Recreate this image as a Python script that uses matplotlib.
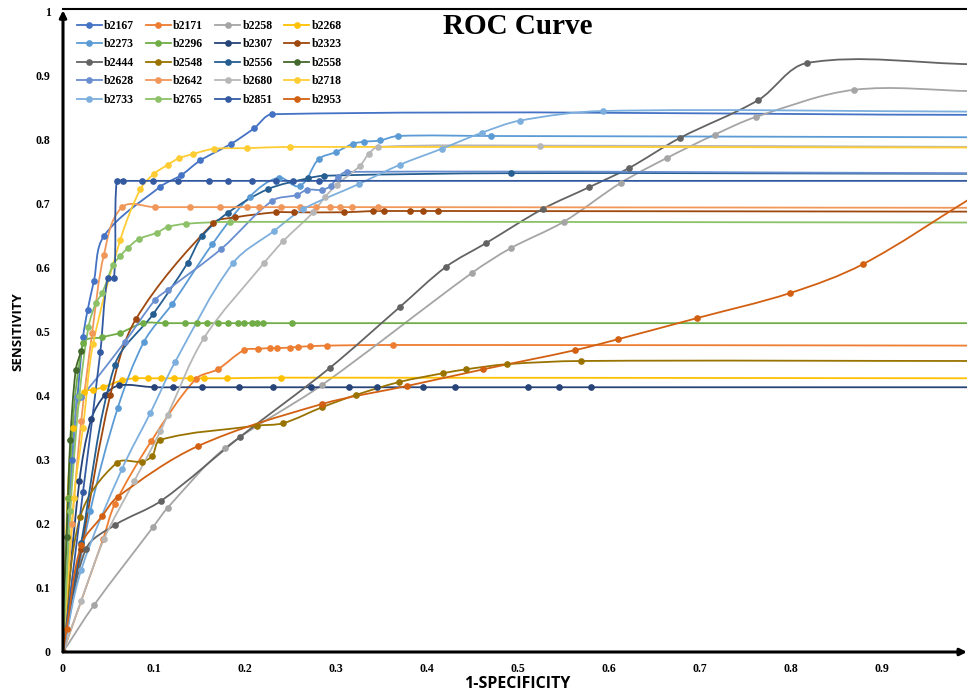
import matplotlib
matplotlib.use('Agg')
import matplotlib.pyplot as plt
import numpy as np
from matplotlib.path import Path
from matplotlib.patches import PathPatch
from matplotlib.lines import Line2D

# ---- data (x = 1-specificity, y = sensitivity) ----
x_b2167 = [0, 0.010, 0.016, 0.022, 0.027, 0.034, 0.045, 0.107, 0.130, 0.151, 0.185, 0.210, 0.230, 1.0]
y_b2167 = [0, 0.30, 0.40, 0.491, 0.533, 0.579, 0.649, 0.726, 0.744, 0.767, 0.793, 0.817, 0.839, 0.838]

x_b2171 = [0, 0.044, 0.057, 0.097, 0.146, 0.170, 0.199, 0.214, 0.227, 0.235, 0.249, 0.258, 0.271, 0.290, 0.363, 1.0]
y_b2171 = [0, 0.176, 0.231, 0.329, 0.426, 0.441, 0.471, 0.473, 0.474, 0.474, 0.475, 0.476, 0.477, 0.478, 0.479, 0.478]

x_b2258 = [0, 0.034, 0.099, 0.115, 0.178, 0.285, 0.449, 0.492, 0.550, 0.613, 0.664, 0.716, 0.762, 0.869, 1.0]
y_b2258 = [0, 0.073, 0.195, 0.225, 0.318, 0.417, 0.591, 0.630, 0.671, 0.732, 0.771, 0.807, 0.835, 0.877, 0.875]

x_b2268 = [0, 0.005, 0.011, 0.023, 0.033, 0.044, 0.065, 0.079, 0.093, 0.108, 0.122, 0.140, 0.155, 0.180, 0.240, 1.0]
y_b2268 = [0, 0.24, 0.349, 0.406, 0.409, 0.413, 0.424, 0.427, 0.427, 0.427, 0.427, 0.427, 0.427, 0.427, 0.428, 0.427]

x_b2273 = [0, 0.030, 0.060, 0.089, 0.120, 0.164, 0.205, 0.237, 0.260, 0.281, 0.300, 0.319, 0.331, 0.348, 0.368, 0.470, 1.0]
y_b2273 = [0, 0.22, 0.38, 0.484, 0.543, 0.636, 0.710, 0.740, 0.727, 0.769, 0.780, 0.793, 0.796, 0.798, 0.805, 0.805, 0.803]

x_b2296 = [0, 0.006, 0.022, 0.043, 0.063, 0.088, 0.112, 0.134, 0.147, 0.158, 0.170, 0.181, 0.192, 0.199, 0.208, 0.213, 0.220, 0.252, 1.0]
y_b2296 = [0, 0.24, 0.482, 0.491, 0.498, 0.513, 0.513, 0.513, 0.513, 0.513, 0.513, 0.513, 0.513, 0.513, 0.513, 0.513, 0.513, 0.513, 0.513]

x_b2307 = [0, 0.018, 0.031, 0.046, 0.062, 0.100, 0.121, 0.153, 0.193, 0.231, 0.272, 0.314, 0.345, 0.396, 0.431, 0.511, 0.545, 0.580, 1.0]
y_b2307 = [0, 0.266, 0.363, 0.401, 0.416, 0.413, 0.413, 0.413, 0.413, 0.413, 0.413, 0.413, 0.413, 0.413, 0.413, 0.413, 0.413, 0.413, 0.413]

x_b2323 = [0, 0.020, 0.052, 0.080, 0.165, 0.189, 0.234, 0.254, 0.309, 0.341, 0.353, 0.381, 0.396, 0.412, 1.0]
y_b2323 = [0, 0.16, 0.401, 0.519, 0.669, 0.678, 0.686, 0.686, 0.686, 0.688, 0.688, 0.688, 0.688, 0.688, 0.687]

x_b2444 = [0, 0.025, 0.057, 0.108, 0.195, 0.293, 0.370, 0.421, 0.465, 0.527, 0.578, 0.622, 0.678, 0.764, 0.818, 1.0]
y_b2444 = [0, 0.16, 0.198, 0.236, 0.336, 0.443, 0.538, 0.601, 0.638, 0.691, 0.725, 0.755, 0.802, 0.861, 0.919, 0.917]

x_b2548 = [0, 0.019, 0.059, 0.087, 0.098, 0.107, 0.213, 0.242, 0.285, 0.322, 0.369, 0.418, 0.443, 0.488, 0.569, 1.0]
y_b2548 = [0, 0.211, 0.295, 0.297, 0.306, 0.331, 0.353, 0.357, 0.382, 0.401, 0.421, 0.435, 0.441, 0.449, 0.454, 0.454]

x_b2556 = [0, 0.020, 0.057, 0.099, 0.137, 0.153, 0.181, 0.225, 0.269, 0.287, 0.492, 1.0]
y_b2556 = [0, 0.17, 0.448, 0.527, 0.607, 0.649, 0.685, 0.722, 0.739, 0.743, 0.747, 0.746]

x_b2558 = [0, 0.004, 0.008, 0.014, 0.020]
y_b2558 = [0, 0.18, 0.33, 0.44, 0.47]

x_b2628 = [0, 0.015, 0.020, 0.068, 0.101, 0.115, 0.174, 0.230, 0.257, 0.268, 0.285, 0.294, 0.302, 0.312, 1.0]
y_b2628 = [0, 0.398, 0.398, 0.484, 0.549, 0.565, 0.629, 0.704, 0.713, 0.721, 0.721, 0.727, 0.741, 0.749, 0.747]

x_b2642 = [0, 0.010, 0.020, 0.032, 0.045, 0.065, 0.101, 0.140, 0.173, 0.202, 0.215, 0.240, 0.260, 0.278, 0.293, 0.304, 0.318, 0.346, 1.0]
y_b2642 = [0, 0.20, 0.36, 0.497, 0.62, 0.694, 0.694, 0.694, 0.694, 0.694, 0.694, 0.694, 0.694, 0.694, 0.694, 0.694, 0.694, 0.694, 0.693]

x_b2680 = [0, 0.020, 0.045, 0.078, 0.107, 0.115, 0.155, 0.221, 0.242, 0.275, 0.288, 0.301, 0.326, 0.336, 0.346, 0.524, 1.0]
y_b2680 = [0, 0.08, 0.176, 0.266, 0.344, 0.370, 0.490, 0.607, 0.641, 0.686, 0.710, 0.729, 0.758, 0.777, 0.788, 0.790, 0.788]

x_b2718 = [0, 0.012, 0.022, 0.033, 0.063, 0.085, 0.100, 0.115, 0.127, 0.143, 0.166, 0.202, 0.249, 1.0]
y_b2718 = [0, 0.24, 0.35, 0.48, 0.643, 0.722, 0.746, 0.760, 0.770, 0.777, 0.785, 0.786, 0.788, 0.787]

x_b2733 = [0, 0.020, 0.065, 0.096, 0.123, 0.187, 0.232, 0.264, 0.325, 0.370, 0.416, 0.460, 0.502, 0.593, 1.0]
y_b2733 = [0, 0.128, 0.286, 0.373, 0.452, 0.607, 0.657, 0.691, 0.730, 0.760, 0.785, 0.810, 0.829, 0.844, 0.843]

x_b2765 = [0, 0.008, 0.018, 0.028, 0.036, 0.043, 0.055, 0.063, 0.071, 0.083, 0.103, 0.115, 0.135, 0.184, 1.0]
y_b2765 = [0, 0.22, 0.40, 0.507, 0.544, 0.560, 0.604, 0.618, 0.630, 0.644, 0.654, 0.663, 0.668, 0.671, 0.670]

x_b2851 = [0, 0.022, 0.041, 0.049, 0.056, 0.059, 0.066, 0.087, 0.099, 0.126, 0.160, 0.181, 0.208, 0.234, 0.253, 0.281, 1.0]
y_b2851 = [0, 0.25, 0.468, 0.583, 0.583, 0.735, 0.735, 0.735, 0.735, 0.735, 0.735, 0.735, 0.735, 0.735, 0.735, 0.735, 0.735]

x_b2953 = [0, 0.004, 0.020, 0.043, 0.060, 0.148, 0.285, 0.378, 0.462, 0.563, 0.610, 0.697, 0.799, 0.879, 1.0]
y_b2953 = [0, 0.036, 0.167, 0.212, 0.242, 0.321, 0.387, 0.415, 0.441, 0.471, 0.488, 0.521, 0.560, 0.605, 0.71]

names = ['b2167', 'b2171', 'b2258', 'b2268', 'b2273', 'b2296', 'b2307', 'b2323', 'b2444', 'b2548',
         'b2556', 'b2558', 'b2628', 'b2642', 'b2680', 'b2718', 'b2733', 'b2765', 'b2851', 'b2953']
colors = ['#4472C4', '#ED7D31', '#A5A5A5', '#FFC000', '#5B9BD5', '#70AD47', '#264478', '#9E480E', '#636363', '#997300',
          '#255E91', '#43682B', '#698ED0', '#F1975A', '#B7B7B7', '#FFCD33', '#7CAFDD', '#8CC168', '#335AA1', '#D26012']
xs_all = [x_b2167, x_b2171, x_b2258, x_b2268, x_b2273, x_b2296, x_b2307, x_b2323, x_b2444, x_b2548,
          x_b2556, x_b2558, x_b2628, x_b2642, x_b2680, x_b2718, x_b2733, x_b2765, x_b2851, x_b2953]
ys_all = [y_b2167, y_b2171, y_b2258, y_b2268, y_b2273, y_b2296, y_b2307, y_b2323, y_b2444, y_b2548,
          y_b2556, y_b2558, y_b2628, y_b2642, y_b2680, y_b2718, y_b2733, y_b2765, y_b2851, y_b2953]

xticks = [0, 0.1, 0.2, 0.3, 0.4, 0.5, 0.6, 0.7, 0.8, 0.9]
xticklabels = ['0', '0.1', '0.2', '0.3', '0.4', '0.5', '0.6', '0.7', '0.8', '0.9']
yticks = [0, 0.1, 0.2, 0.3, 0.4, 0.5, 0.6, 0.7, 0.8, 0.9, 1.0]
yticklabels = ['0', '0.1', '0.2', '0.3', '0.4', '0.5', '0.6', '0.7', '0.8', '0.9', '1']


def smooth_path(xs, ys, k=0.33):
    # excel-like smoothed line: cubic bezier through the points
    p = np.column_stack([xs, ys]).astype(float)
    sc = np.array([1.42, 1.0])  # x unit is wider than y unit on screen
    n = len(p)
    tang = []
    for i in range(n):
        a = p[max(i - 1, 0)]
        b = p[min(i + 1, n - 1)]
        d = (b - a) * sc
        nd = np.hypot(*d)
        tang.append(d / nd if nd > 0 else np.zeros(2))
    verts = [p[0]]
    codes = [Path.MOVETO]
    for i in range(n - 1):
        seg = np.hypot(*((p[i + 1] - p[i]) * sc))
        c1 = p[i] + tang[i] * seg * k / sc
        c2 = p[i + 1] - tang[i + 1] * seg * k / sc
        verts += [c1, c2, p[i + 1]]
        codes += [Path.CURVE4] * 3
    return Path(verts, codes)


fig = plt.figure(figsize=(9.67, 6.96), dpi=100)
ax = fig.add_axes([63 / 967, 44 / 696, 1 - 63 / 967, (687 - 44) / 696])

for nm, c, xs, ys in zip(names, colors, xs_all, ys_all):
    ax.add_patch(PathPatch(smooth_path(xs, ys), fill=False, edgecolor=c, lw=1.3))
    ax.plot(xs, ys, linestyle='none', marker='o', ms=3.8, color=c)

ax.set_xlim(0, 904 / 910)
ax.set_ylim(0, 643 / 641)

for s in ['left', 'bottom', 'right']:
    ax.spines[s].set_visible(False)
ax.spines['top'].set_linewidth(1.5)

# axis lines with arrow heads
ax.annotate('', xy=(1.0, 0), xytext=(0, 0), xycoords='axes fraction',
            arrowprops=dict(arrowstyle='-|>', color='black', lw=2.2, mutation_scale=10, shrinkA=0, shrinkB=0))
ax.annotate('', xy=(0, 0.998), xytext=(0, 0), xycoords='axes fraction',
            arrowprops=dict(arrowstyle='-|>', color='black', lw=2.2, mutation_scale=10, shrinkA=0, shrinkB=0))

ax.set_xticks(xticks)
ax.set_xticklabels(xticklabels)
ax.set_yticks(yticks)
ax.set_yticklabels(yticklabels)
ax.tick_params(length=0, labelsize=8.5)
ax.tick_params(axis='x', pad=8)
ax.tick_params(axis='y', pad=9)
for lab in ax.get_xticklabels() + ax.get_yticklabels():
    lab.set_fontfamily('Liberation Serif')
    lab.set_fontweight('bold')

fig.text(518 / 967, 1 - 27 / 696, 'ROC Curve', ha='center', va='center',
         fontfamily='Liberation Serif', fontweight='bold', fontsize=21)
fig.text(517 / 967, 1 - 684 / 696, '1-SPECIFICITY', ha='center', va='center',
         fontfamily='Open Sans', fontweight='bold', fontsize=11.5)
fig.text(18 / 967, 1 - 332 / 696, 'SENSITIVITY', ha='center', va='center', rotation=90,
         fontfamily='Open Sans', fontweight='bold', fontsize=9.5)

# legend is filled row by row in the reference
ncol = 4
nrow = 5
order = [r * ncol + c for c in range(ncol) for r in range(nrow)]
handles = [Line2D([], [], color=colors[i], lw=1.3, marker='o', ms=3.8) for i in order]
labels = [names[i] for i in order]
leg = fig.legend(handles, labels, loc='upper left', bbox_to_anchor=(77 / 967, 1 - 20 / 696),
                 ncol=ncol, frameon=False, handlelength=2.1, handletextpad=0.2, columnspacing=1.0,
                 labelspacing=0.55, borderpad=0, borderaxespad=0,
                 prop={'family': 'Liberation Serif', 'weight': 'bold', 'size': 8.5})

fig.savefig('out.png', dpi=100)
